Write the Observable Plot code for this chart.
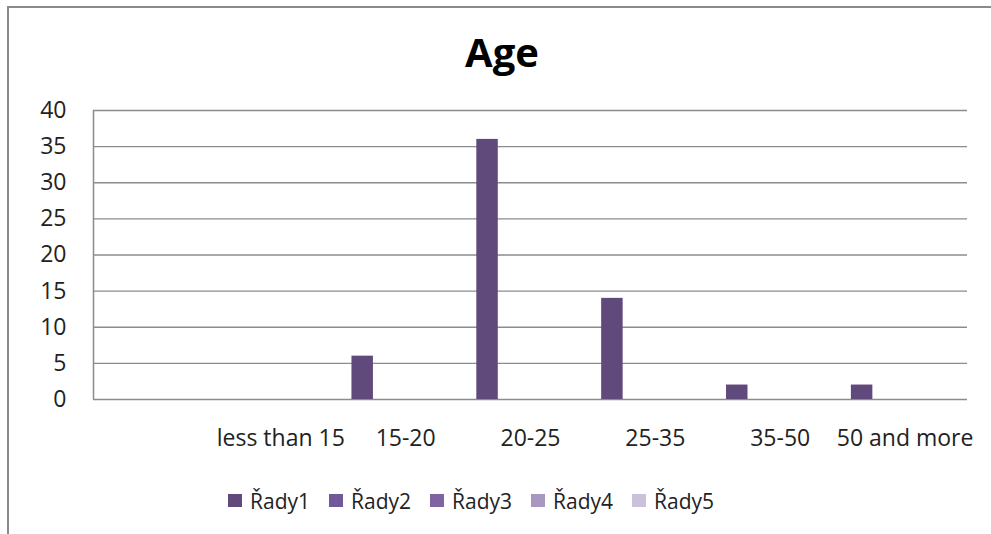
<!DOCTYPE html>
<html><head><meta charset="utf-8">
<script src="https://cdn.jsdelivr.net/npm/d3@7"></script>
<script src="https://cdn.jsdelivr.net/npm/@observablehq/plot@0.6"></script>
<style>
body{margin:0;background:#fff;}
#wrap{position:relative;width:991px;height:534px;overflow:hidden;font-family:"Open Sans",sans-serif;background:#fff;}
#border{position:absolute;left:7px;top:6px;width:1000px;height:600px;border-left:2px solid #8a8a8a;border-top:2px solid #8a8a8a;}
#title{position:absolute;left:0;width:1004px;top:32px;text-align:center;font-weight:700;font-size:40px;line-height:40px;color:#000;}
#chart{position:absolute;left:0;top:0;}
#legend{position:absolute;left:228px;top:484px;}
.lg-swatches{font-family:"Open Sans",sans-serif !important;font-size:21px;color:#222;margin:0 !important;}
.lg-swatch{width:101px;margin-right:0 !important;}
.lg-swatch > svg{margin-right:8px !important;}
</style></head>
<body>
<div id="wrap">
  <div id="border"></div>
  <div id="chart"></div>
  <div id="title">Age</div>
  <div id="legend"></div>
</div>
<script>
const categories = ["", "less than 15", "15-20", "20-25", "25-35", "35-50", "50 and more"];
const seriesNames = ["Řady1", "Řady2", "Řady3", "Řady4", "Řady5"];
const rady1 = [0, 0, 6, 36, 14, 2, 2];
const rady2 = [0, 0, 0, 0, 0, 0, 0];
const rady3 = [0, 0, 0, 0, 0, 0, 0];
const rady4 = [0, 0, 0, 0, 0, 0, 0];
const rady5 = [0, 0, 0, 0, 0, 0, 0];
const seriesValues = [rady1, rady2, rady3, rady4, rady5];
const yTicks = [0, 5, 10, 15, 20, 25, 30, 35, 40];
const colors = ["#5f4a7b", "#71589a", "#8064a2", "#a898c0", "#ccc1da"];

// clustered-column layout within each category slot
const gapFrac = 0.14;
const barW = (1 - gapFrac) / seriesNames.length;
const rows = [];
seriesValues.forEach((vals, s) => {
  vals.forEach((v, c) => {
    const x1 = c + gapFrac / 2 + s * barW;
    rows.push({series: seriesNames[s], category: categories[c], value: v, x1, x2: x1 + barW});
  });
});
const tickPos = categories.map((c, i) => i + 0.5);

const chart = Plot.plot({
  width: 991,
  height: 470,
  marginLeft: 93,
  marginRight: 24,
  marginTop: 110,
  marginBottom: 71,
  style: {fontFamily: "'Open Sans', sans-serif", fontSize: "23px", color: "#222", background: "transparent", overflow: "visible"},
  x: {domain: [0, categories.length], label: null},
  y: {domain: [0, 40], label: null},
  color: {domain: seriesNames, range: colors},
  marks: [
    Plot.gridY(yTicks, {stroke: "#8c8c8c", strokeOpacity: 1, strokeWidth: 1.3}),
    Plot.ruleX([0], {stroke: "#8c8c8c", strokeWidth: 1.5}),
    Plot.rect(rows, {x1: "x1", x2: "x2", y1: d => 0, y2: "value", fill: "series"}),
    Plot.axisY(yTicks, {tickSize: 0, tickPadding: 27, label: null}),
    Plot.axisX(tickPos, {tickSize: 0, tickPadding: 30, label: null, tickFormat: d => categories[Math.floor(d)]})
  ]
});
document.getElementById("chart").appendChild(chart);

const legend = Plot.legend({
  color: {type: "ordinal", domain: seriesNames, range: colors},
  className: "lg",
  swatchWidth: 14,
  swatchHeight: 13
});
document.getElementById("legend").appendChild(legend);
</script>
</body></html>
